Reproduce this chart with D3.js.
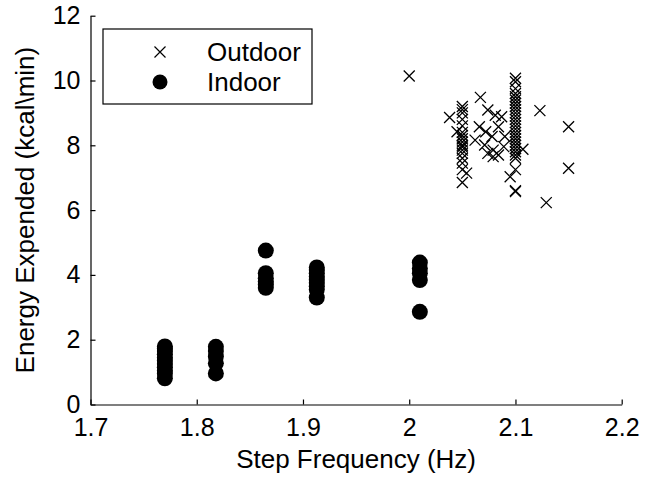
<!DOCTYPE html>
<html lang="en">
<head>
<meta charset="UTF-8">
<title>Step Frequency vs Energy</title>
<script src="https://cdn.jsdelivr.net/npm/d3@7"></script>
<style>
  body { margin: 0; background: #fff; }
  svg { font-family: "Liberation Sans", Arial, sans-serif; }
  .axis text { font-size: 25px; fill: #000; }
  .axis path, .axis line { stroke: #000; stroke-width: 1.2; }
</style>
</head>
<body>
<div id="chart"></div>
<script>
var width = 657, height = 477
var margin = {left: 90.5, right: 35.3, top: 15.7, bottom: 72.5}

// outdoor samples (x markers)
var outFreq = [2.0,
  2.05, 2.05, 2.05, 2.05, 2.05, 2.05, 2.05, 2.05, 2.05, 2.05, 2.05, 2.05, 2.05, 2.05, 2.05, 2.05, 2.05,
  2.038, 2.054, 2.045,
  2.067, 2.074, 2.081, 2.087, 2.066, 2.072, 2.078, 2.084, 2.062, 2.071, 2.079, 2.074, 2.079, 2.084, 2.089, 2.09,
  2.1, 2.1, 2.1, 2.1, 2.1, 2.1, 2.1, 2.1, 2.1, 2.1, 2.1, 2.1, 2.1, 2.1, 2.1, 2.1, 2.1, 2.1, 2.1, 2.1, 2.1, 2.1, 2.1, 2.1, 2.1, 2.1, 2.1,
  2.095, 2.107, 2.123, 2.15, 2.15, 2.129]
var outEnergy = [10.14,
  9.2, 9.1, 9.0, 8.8, 8.6, 8.4, 8.3, 8.2, 8.1, 8.0, 7.95, 7.85, 7.75, 7.6, 7.45, 7.25, 6.85,
  8.86, 7.14, 8.42,
  9.48, 9.09, 8.93, 8.88, 8.57, 8.42, 8.27, 8.57, 8.16, 8.01, 7.85, 7.75, 7.65, 7.7, 7.96, 8.27,
  10.07, 9.96, 9.75, 9.6, 9.5, 9.4, 9.3, 9.2, 9.1, 9.0, 8.9, 8.8, 8.7, 8.6, 8.5, 8.4, 8.3, 8.2, 8.1, 8.0, 7.9, 7.8, 7.7, 7.6, 7.25, 6.6, 6.57,
  7.03, 7.88, 9.07, 8.57, 7.29, 6.23]

// indoor samples (filled circles)
var inFreq = [1.77, 1.77, 1.77, 1.77, 1.77, 1.77, 1.77, 1.77, 1.77, 1.77, 1.77,
  1.818, 1.818, 1.818, 1.818, 1.818,
  1.865, 1.865, 1.865, 1.865, 1.865, 1.865,
  1.913, 1.913, 1.913, 1.913, 1.913, 1.913, 1.913, 1.913, 1.913,
  2.01, 2.01, 2.01, 2.01, 2.01]
var inEnergy = [0.81, 0.95, 1.05, 1.15, 1.25, 1.35, 1.45, 1.55, 1.65, 1.72, 1.79,
  1.78, 1.65, 1.48, 1.27, 0.96,
  4.75, 4.05, 3.9, 3.8, 3.7, 3.6,
  4.23, 4.15, 4.05, 3.95, 3.85, 3.75, 3.65, 3.55, 3.3,
  4.38, 4.2, 4.05, 3.84, 2.86]

var xTicks = [1.7, 1.8, 1.9, 2.0, 2.1, 2.2]
var yTicks = [0, 2, 4, 6, 8, 10, 12]
var seriesNames = ['Outdoor', 'Indoor']

var svg = d3.select('#chart').append('svg')
    .attr('width', width).attr('height', height)

var xScale = d3.scaleLinear().domain([1.7, 2.2]).range([margin.left, width - margin.right])
var yScale = d3.scaleLinear().domain([0, 12]).range([height - margin.bottom, margin.top])

var xAxis = d3.axisBottom(xScale).tickValues(xTicks).tickSizeInner(-5).tickSizeOuter(0)
    .tickPadding(14).tickFormat(d3.format('~g'))
var yAxis = d3.axisLeft(yScale).tickValues(yTicks).tickSizeInner(-5).tickSizeOuter(0)
    .tickPadding(10)

svg.append('g').attr('class', 'axis')
    .attr('transform', 'translate(0,' + yScale(0) + ')')
    .call(xAxis)
svg.append('g').attr('class', 'axis')
    .attr('transform', 'translate(' + xScale(1.7) + ',0)')
    .call(yAxis)
svg.selectAll('.axis').attr('font-family', null).attr('font-size', null)

// indoor dots
svg.selectAll('.dot')
    .data(inFreq)
    .enter().append('circle')
    .attr('class', 'dot')
    .attr('cx', function(d){ return xScale(d) })
    .attr('cy', function(d, i){ return yScale(inEnergy[i]) })
    .attr('r', 8)
    .attr('fill', '#000')

// outdoor crosses
var s = 5.5
function cross(x, y){
    return 'M' + (x - s) + ',' + (y - s) + 'L' + (x + s) + ',' + (y + s) +
           'M' + (x - s) + ',' + (y + s) + 'L' + (x + s) + ',' + (y - s)
}
svg.selectAll('.cross')
    .data(outFreq)
    .enter().append('path')
    .attr('class', 'cross')
    .attr('d', function(d, i){ return cross(xScale(d), yScale(outEnergy[i])) })
    .attr('stroke', '#000')
    .attr('stroke-width', 1.3)
    .attr('fill', 'none')

// axis labels
svg.append('text')
    .attr('x', xScale(1.95)).attr('y', 468)
    .attr('text-anchor', 'middle')
    .style('font-size', '26px')
    .text('Step Frequency (Hz)')

svg.append('text')
    .attr('transform', 'translate(34,' + yScale(6) + ') rotate(-90)')
    .attr('text-anchor', 'middle')
    .style('font-size', '26px')
    .text('Energy Expended (kcal\\min)')

// legend
var legend = svg.append('g')
legend.append('rect')
    .attr('x', 103).attr('y', 29).attr('width', 209).attr('height', 75)
    .attr('fill', '#fff').attr('stroke', '#000').attr('stroke-width', 1.2)

legend.append('path')
    .attr('d', cross(160, 52))
    .attr('stroke', '#000').attr('stroke-width', 1.2)
legend.append('circle').attr('cx', 160).attr('cy', 82).attr('r', 7.5).attr('fill', '#000')

legend.selectAll('.ltext')
    .data(seriesNames)
    .enter().append('text')
    .attr('class', 'ltext')
    .attr('x', 207)
    .attr('y', function(d, i){ return 52 + i * 30 })
    .attr('dy', '0.36em')
    .style('font-size', '26px')
    .text(function(d){ return d })
</script>
</body>
</html>
